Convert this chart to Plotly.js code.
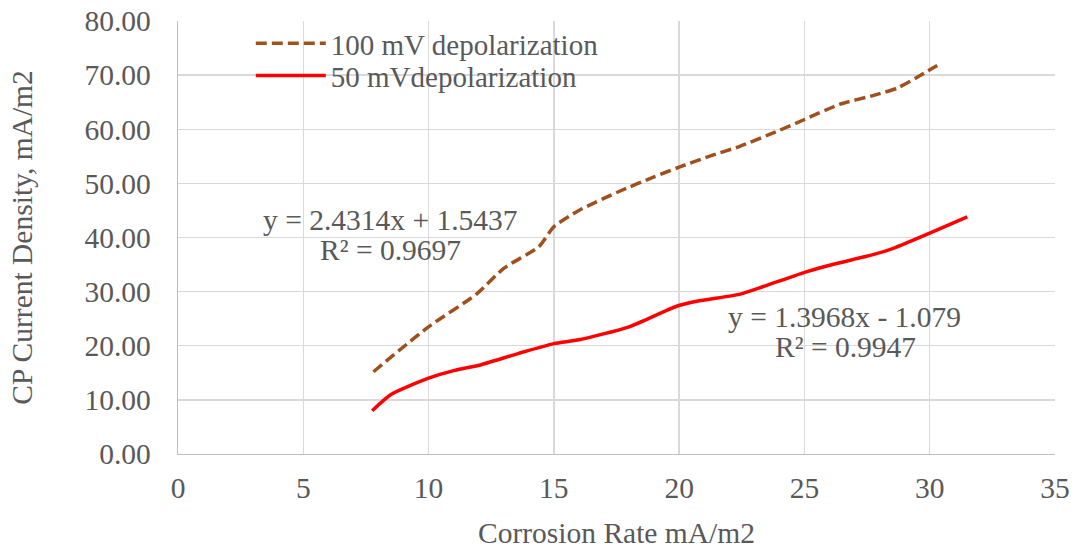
<!DOCTYPE html>
<html>
<head>
<meta charset="utf-8">
<script src="https://cdn.plot.ly/plotly-3.0.1.min.js"></script>
<style>html,body{margin:0;padding:0;background:#fff;}#chart{width:1076px;height:549px;}</style>
</head>
<body>
<div id="chart"></div>
<script>
// 100 mV depolarization
const x100 = [7.8, 10.0, 11.9, 13.0, 14.4, 15.0, 16.0, 17.6, 19.0, 20.0, 21.2, 22.4, 24.0, 25.0, 26.4, 27.8, 28.7, 29.5, 30.3];
const y100 = [15.2, 23.5, 29.5, 34.3, 38.3, 42.0, 45.0, 48.5, 51.2, 53.0, 55.0, 56.8, 59.8, 61.8, 64.6, 66.3, 67.6, 69.6, 71.8];
// 50 mV depolarization
const x50 = [7.75, 8.5, 10.0, 11.0, 12.1, 13.6, 15.0, 16.0, 18.0, 19.9, 20.8, 22.4, 23.4, 25.1, 26.2, 27.7, 28.6, 30.0, 31.5];
const y50 = [8.0, 11.0, 14.0, 15.4, 16.5, 18.6, 20.4, 21.1, 23.5, 27.3, 28.3, 29.5, 31.0, 33.7, 35.1, 36.8, 38.1, 40.8, 43.8];
const seriesNames = ["100 mV depolarization", "50 mVdepolarization"];
const eqText = ["y = 2.4314x + 1.5437", "y = 1.3968x - 1.079"];
const r2Text = ["R² = 0.9697", "R² = 0.9947"];
const yTicks = [0, 10, 20, 30, 40, 50, 60, 70, 80];
const xTicks = [0, 5, 10, 15, 20, 25, 30, 35];

const FONT = "Liberation Serif";
const GRAY = "#595959";
const FS = 29.5;

const traces = [
  {x: x100, y: y100, name: seriesNames[0], mode: "lines", type: "scatter", legend: "legend",
   line: {color: "#A0501E", width: 3.5, dash: "11px,5px", shape: "spline", smoothing: 0.6}},
  {x: x50, y: y50, name: seriesNames[1], mode: "lines", type: "scatter", legend: "legend2",
   line: {color: "#FF0000", width: 3.5, shape: "spline", smoothing: 0.6}}
];

const legBase = {xanchor: "left", yanchor: "middle", bgcolor: "rgba(0,0,0,0)",
                 font: {family: FONT, size: 29, color: GRAY}, itemwidth: 70};

function ann(x, y, t) {
  return {x: x, y: y, xref: "x", yref: "y", text: t, showarrow: false, align: "center",
          xanchor: "center", yanchor: "middle", font: {family: FONT, size: FS, color: GRAY}};
}

const layout = {
  width: 1076, height: 549,
  margin: {l: 177.5, r: 21, t: 21, b: 95},
  paper_bgcolor: "#fff", plot_bgcolor: "#fff",
  font: {family: FONT, color: GRAY, size: FS},
  showlegend: true,
  legend: Object.assign({}, legBase, {x: 0.083, y: 0.948}),
  legend2: Object.assign({}, legBase, {x: 0.083, y: 0.874}),
  xaxis: {range: [0, 35], tickvals: xTicks, ticktext: xTicks.map(String),
          showgrid: true, gridcolor: "#D9D9D9", gridwidth: 1.3, zeroline: false,
          showline: true, linecolor: "#BFBFBF", linewidth: 1.3, ticks: "", ticklabelstandoff: 7,
          tickfont: {family: FONT, size: FS, color: GRAY},
          title: {text: "Corrosion Rate mA/m2", font: {family: FONT, size: FS, color: GRAY}, standoff: 26},
          fixedrange: true},
  yaxis: {range: [0, 80], tickvals: yTicks, ticktext: yTicks.map(v => v.toFixed(2)),
          showgrid: true, gridcolor: "#D9D9D9", gridwidth: 1.3, zeroline: false,
          showline: true, linecolor: "#BFBFBF", linewidth: 1.3, ticks: "", ticklabelstandoff: 20,
          tickfont: {family: FONT, size: FS, color: GRAY},
          title: {text: "CP Current Density, mA/m2", font: {family: FONT, size: FS, color: GRAY}, standoff: 43},
          fixedrange: true},
  annotations: [
    ann(8.48, 43.2, eqText[0]), ann(8.48, 37.7, r2Text[0]),
    ann(26.6, 25.4, eqText[1]), ann(26.65, 19.8, r2Text[1])
  ]
};

Plotly.newPlot("chart", traces, layout, {staticPlot: true, displayModeBar: false});
</script>
</body>
</html>
